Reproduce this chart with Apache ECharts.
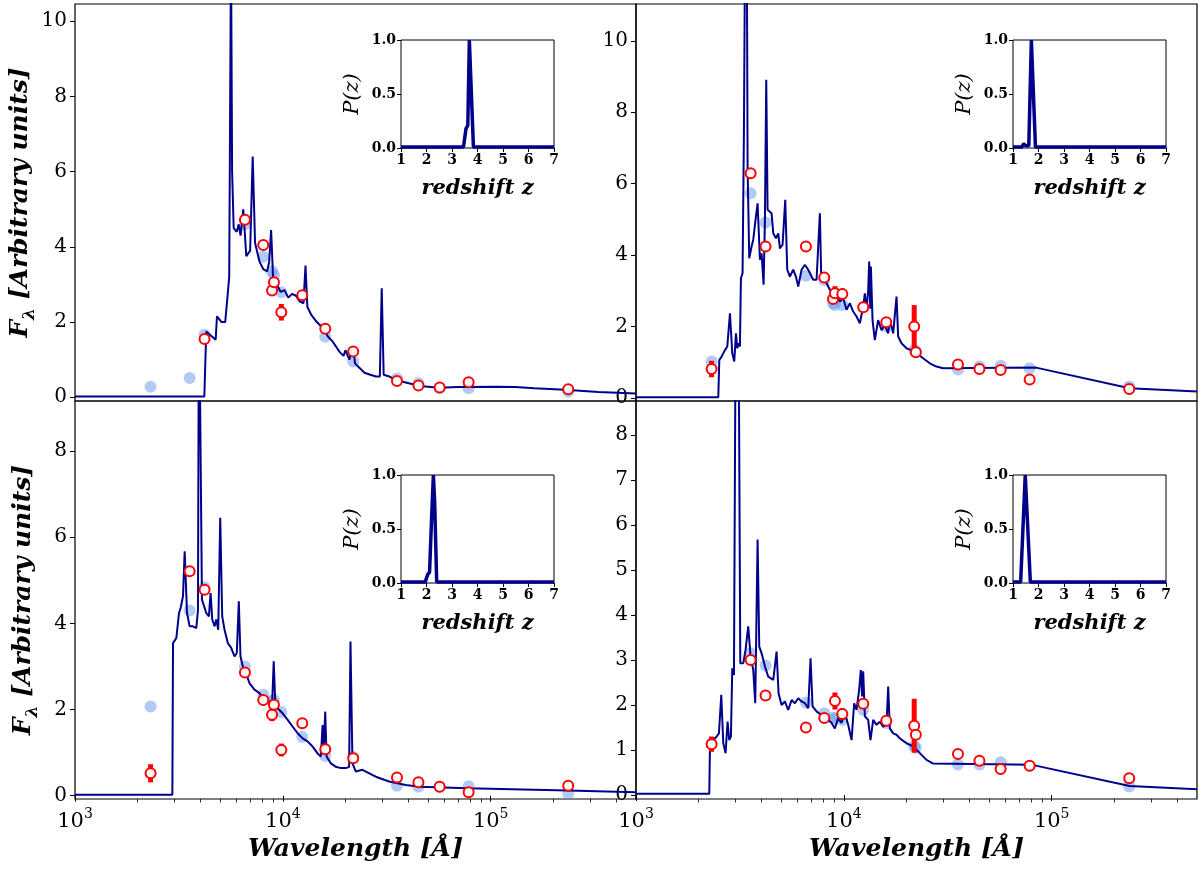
<!DOCTYPE html>
<html>
<head>
<meta charset="utf-8">
<title>SED fits</title>
<script src="https://cdn.jsdelivr.net/npm/echarts@6/dist/echarts.min.js"></script>
<style>
    html, body { margin: 0; padding: 0; background: #fff; }
    #chart { width: 1200px; height: 872px; }
</style>
</head>
<body>
<div id="chart"></div>
<script>
// ---- data ----
// wavelengths (Angstrom) of the photometric bands
const lamObs = [2310, 3560, 4200, 6570, 8050, 8870, 9060, 9830, 12400, 16000, 21800, 22200, 35400, 44900, 56800, 78300, 236000];

// observed fluxes (red open circles), errors, and model fluxes (light blue dots)
const obsTL = [null, null, 1.55, 4.72, 4.05, 2.84, 3.06, 2.26, 2.71, 1.82, 1.22, null, 0.43, 0.31, 0.26, 0.40, 0.21];
const errTL = [0, 0, 0.05, 0.05, 0.05, 0.08, 0.05, 0.22, 0.08, 0.05, 0.1, 0, 0.03, 0.03, 0.03, 0.03, 0.03];
const modTL = [0.28, 0.51, 1.66, 4.6, 3.74, 3.35, 3.25, 2.79, 2.7, 1.61, 0.95, null, 0.5, 0.37, 0.24, 0.24, 0.15];

const obsTR = [0.81, 6.29, 4.24, 4.24, 3.37, 2.77, 2.93, 2.91, 2.54, 2.12, 2.0, 1.28, 0.94, 0.81, 0.78, 0.52, 0.25];
const errTR = [0.23, 0.05, 0.05, 0.05, 0.05, 0.1, 0.2, 0.15, 0.08, 0.08, 0.6, 0.08, 0.05, 0.05, 0.05, 0.05, 0.05];
const modTR = [1.02, 5.73, 4.91, 3.42, 3.3, 2.65, 2.6, 2.6, 2.55, 2.0, 1.34, 1.3, 0.8, 0.88, 0.9, 0.83, 0.32];

const obsBL = [0.52, 5.21, 4.78, 2.86, 2.22, 1.88, 2.11, 1.06, 1.68, 1.08, 0.87, null, 0.42, 0.31, 0.21, 0.08, 0.23];
const errBL = [0.21, 0.05, 0.05, 0.05, 0.05, 0.15, 0.05, 0.15, 0.08, 0.05, 0.05, 0, 0.03, 0.03, 0.03, 0.03, 0.03];
const modBL = [2.07, 4.3, 4.84, 3.0, 2.34, 2.2, 2.22, 1.94, 1.36, 0.92, 0.9, null, 0.23, 0.21, 0.21, 0.22, 0.05];

const obsBR = [1.13, 3.0, 2.21, 1.5, 1.71, null, 2.09, 1.8, 2.03, 1.65, 1.54, 1.34, 0.91, 0.76, 0.58, 0.65, 0.37];
const errBR = [0.17, 0.05, 0.05, 0.05, 0.05, 0, 0.19, 0.13, 0.08, 0.05, 0.6, 0.08, 0.05, 0.05, 0.05, 0.05, 0.05];
const modBR = [1.15, 3.15, 2.88, 2.05, 1.82, 1.72, 1.7, 1.67, 1.89, 1.6, 1.08, 1.05, 0.68, 0.68, 0.73, 0.65, 0.19];

// best-fit model spectra [wavelength, flux]
const specTL = [[1000, 0.02], [4190, 0.02], [4280, 1.75], [4750, 1.53], [4820, 2.15], [5070, 2.0], [5280, 2.0], [5400, 2.6],
    [5520, 3.2], [5580, 8], [5630, 12], [5700, 6], [5800, 4.5], [6000, 4.4], [6130, 4.6], [6260, 4.3], [6450, 5.0],
    [6670, 3.75], [6960, 3.9], [7160, 6.4], [7350, 4.1], [7730, 3.6], [8070, 3.4], [8410, 3.35], [8590, 3.6], [8780, 4.45],
    [8970, 3.2], [9350, 3.0], [9760, 2.8], [10180, 2.85], [10620, 2.65], [11080, 2.75], [11560, 2.7], [12050, 2.55],
    [12570, 2.5], [12850, 3.5], [13120, 2.4], [13680, 2.2], [14570, 2.0], [15520, 1.85], [16540, 1.6], [17260, 1.5],
    [18010, 1.35], [18780, 1.2], [19590, 1.1], [20000, 1.25], [20890, 1.0], [21780, 1.35], [22230, 0.9], [23200, 0.8],
    [24720, 0.65], [26340, 0.6], [28050, 0.55], [29280, 0.55], [29900, 2.9], [30550, 0.6], [32560, 0.55], [35400, 0.45],
    [38550, 0.4], [45650, 0.3], [56360, 0.25], [69660, 0.27], [106300, 0.28], [131200, 0.27], [162200, 0.24],
    [227500, 0.2], [329600, 0.14], [500000, 0.1]];

const specTR = [[1000, 0.02], [2488, 0.02], [2516, 1.06], [2582, 1.16], [2679, 1.34], [2749, 1.44], [2831, 2.37], [2905, 1.25],
    [2970, 1.02], [3026, 1.81], [3071, 1.39], [3105, 1.53], [3162, 1.44], [3197, 3.35], [3256, 3.49], [3305, 7.41],
    [3342, 12], [3417, 12], [3442, 6.48], [3506, 3.91], [3598, 4.24], [3665, 4.43], [3760, 4.99], [3846, 5.45],
    [3947, 3.87], [4020, 4.05], [4110, 3.17], [4171, 5.0], [4233, 8.91], [4296, 5.27], [4490, 5.17], [4575, 4.61],
    [4711, 4.47], [4835, 4.61], [4925, 4.19], [5072, 4.29], [5224, 5.55], [5340, 3.59], [5500, 3.40], [5707, 3.59],
    [5878, 3.40], [6033, 3.12], [6259, 3.59], [6494, 3.73], [6739, 3.59], [7121, 3.31], [7390, 3.31], [7667, 5.17],
    [7781, 3.40], [8103, 3.31], [8564, 3.03], [9051, 2.98], [9567, 2.70], [9926, 2.79], [10300, 2.47], [10690, 2.65],
    [11090, 2.42], [11510, 2.28], [11940, 2.09], [12390, 2.56], [12620, 2.93], [12850, 2.47], [13090, 3.0], [13240, 3.82],
    [13390, 2.5], [13490, 3.68], [13740, 2.18], [14090, 1.62], [14620, 2.18], [15180, 1.90], [15740, 2.04], [16340, 1.81],
    [16640, 2.18], [17270, 1.81], [17920, 2.84], [18250, 1.72], [18940, 1.53], [20020, 1.39], [21150, 1.34], [22360, 1.25],
    [24060, 1.11], [25910, 0.97], [27890, 0.88], [30040, 0.83], [84060, 0.85], [237100, 0.27], [500000, 0.18]];

const specBL = [[1000, 0.02], [2940, 0.02], [2962, 3.54], [3073, 3.66], [3165, 4.24], [3224, 4.36], [3308, 4.63], [3370, 5.67],
    [3458, 4.24], [3562, 3.93], [3694, 3.93], [3833, 3.89], [3905, 4.3], [3948, 12], [4021, 12], [4081, 4.55], [4172, 4.55],
    [4280, 4.24], [4408, 4.16], [4490, 4.7], [4575, 4.09], [4694, 3.93], [4781, 4.09], [4888, 3.85], [4997, 6.45],
    [5108, 4.16], [5241, 3.85], [5438, 3.54], [5642, 3.43], [5854, 3.23], [6004, 3.31], [6139, 4.51], [6254, 3.23],
    [6418, 3.0], [6660, 2.84], [6909, 2.61], [7300, 2.46], [7716, 2.38], [8152, 2.22], [8615, 2.18], [8872, 2.07],
    [9036, 3.12], [9204, 2.07], [9621, 1.99], [9982, 1.91], [10550, 1.76], [11150, 1.6], [11780, 1.45], [12450, 1.33],
    [13150, 1.26], [13900, 1.14], [14690, 0.98], [15240, 0.91], [15530, 1.64], [15700, 0.98], [15990, 1.95], [16230, 0.91],
    [17020, 0.75], [17990, 0.67], [19010, 0.64], [20090, 0.64], [20840, 0.67], [21150, 3.58], [21620, 0.75], [22440, 0.56],
    [24150, 0.6], [27990, 0.44], [32430, 0.33], [38960, 0.25], [45650, 0.21], [77450, 0.17], [234600, 0.12], [500000, 0.08]];

const specBR = [[1000, 0.03], [2252, 0.03], [2269, 1.08], [2354, 1.22], [2443, 1.3], [2506, 1.37], [2572, 2.23], [2630, 1.15],
    [2698, 0.93], [2758, 1.63], [2809, 1.22], [2862, 1.3], [2905, 2.82], [2960, 2.67], [3026, 12], [3105, 12], [3175, 2.93],
    [3281, 2.93], [3367, 3.23], [3467, 3.75], [3558, 3.08], [3665, 2.78], [3747, 2.04], [3846, 5.68], [3917, 3.3],
    [4020, 3.15], [4171, 2.86], [4328, 2.63], [4575, 2.56], [4746, 3.19], [4852, 2.26], [5015, 2.0], [5204, 2.08],
    [5399, 1.89], [5603, 2.11], [5813, 2.04], [6033, 2.15], [6259, 2.08], [6494, 2.04], [6739, 1.93], [6914, 3.04],
    [7070, 1.97], [7390, 1.86], [7809, 1.78], [8256, 1.71], [8725, 1.6], [9051, 1.48], [9393, 1.71], [9745, 1.6],
    [10110, 1.82], [10490, 1.56], [10890, 1.22], [11210, 2.04], [11510, 1.89], [11850, 2.34], [12070, 2.78], [12250, 2.19],
    [12390, 2.75], [12620, 1.75], [13090, 1.67], [13430, 1.22], [13840, 1.67], [14360, 1.56], [14900, 1.63], [15460, 1.52],
    [16040, 1.56], [16340, 2.41], [16640, 1.48], [17270, 1.37], [17920, 1.34], [18590, 1.26], [20020, 1.15], [21540, 1.08],
    [23200, 0.93], [24980, 0.78], [26890, 0.7], [80540, 0.67], [237100, 0.2], [500000, 0.13]];

// redshift probability P(z) for the insets
const pzTL = [[1, 0.01], [3.45, 0.01], [3.55, 0.18], [3.62, 0.21], [3.68, 1.0], [3.75, 1.0], [3.84, 0.01], [7, 0.01]];
const pzTR = [[1, 0.01], [1.35, 0.01], [1.42, 0.04], [1.5, 0.02], [1.62, 0.02], [1.72, 1.0], [1.76, 1.0], [1.88, 0.01], [7, 0.01]];
const pzBL = [[1, 0.01], [1.95, 0.01], [2.05, 0.08], [2.12, 0.1], [2.2, 0.6], [2.27, 1.0], [2.32, 0.75], [2.4, 0.01], [7, 0.01]];
const pzBR = [[1, 0.01], [1.3, 0.01], [1.48, 1.0], [1.52, 1.0], [1.68, 0.01], [7, 0.01]];

// tick values
const xMajor = [1000, 10000, 100000];
const xMinor = [2000, 3000, 4000, 5000, 6000, 7000, 8000, 9000, 20000, 30000, 40000, 50000, 60000, 70000, 80000, 90000,
    200000, 300000, 400000];
const yTicksTop = [0, 2, 4, 6, 8, 10];
const yTicksBL = [0, 2, 4, 6, 8];
const yTicksBR = [0, 1, 2, 3, 4, 5, 6, 7, 8];
const pzTicks = [0, 0.5, 1];

// ---- layout ----
const serif = "'DejaVu Serif', serif";
const navy = '#00008b';
const panels = [
    { left: 75, top: 4, height: 397, ymin: -0.1, ymax: 10.46, yt: yTicksTop, bottom: false, ytitle: true,
      spec: specTL, obs: obsTL, err: errTL, mod: modTL, pz: pzTL, inset: [401, 40] },
    { left: 636, top: 4, height: 397, ymin: -0.085, ymax: 11.03, yt: yTicksTop, bottom: false, ytitle: false,
      spec: specTR, obs: obsTR, err: errTR, mod: modTR, pz: pzTR, inset: [1013, 40] },
    { left: 75, top: 401, height: 398, ymin: -0.077, ymax: 9.16, yt: yTicksBL, bottom: true, ytitle: true,
      spec: specBL, obs: obsBL, err: errBL, mod: modBL, pz: pzBL, inset: [401, 475] },
    { left: 636, top: 401, height: 398, ymin: -0.089, ymax: 8.76, yt: yTicksBR, bottom: true, ytitle: false,
      spec: specBR, obs: obsBR, err: errBR, mod: modBR, pz: pzBR, inset: [1013, 475] }
];

function points(vals) {
    let out = [];
    lamObs.forEach(function (l, i) {
        if (vals[i] != null) out.push([l, vals[i]]);
    });
    return out;
}
function errBars(vals, errs) {
    let out = [];
    lamObs.forEach(function (l, i) {
        if (vals[i] != null && errs[i] > 0) out.push([l, vals[i], errs[i]]);
    });
    return out;
}

let grids = [], xAxes = [], yAxes = [], series = [];

panels.forEach(function (p, i) {
    grids[i] = { left: p.left, top: p.top, width: 561, height: p.height, show: true,
        borderColor: '#000', borderWidth: 1.2, backgroundColor: 'transparent' };
    grids[4 + i] = { left: p.inset[0], top: p.inset[1], width: 153, height: 108, show: true,
        borderColor: '#000', borderWidth: 1, backgroundColor: '#fff' };

    // main log x axis
    xAxes[i] = {
        type: 'log', logBase: 10, gridIndex: i, min: 1000, max: 500000, position: 'bottom',
        axisLine: { show: false }, splitLine: { show: false }, minorTick: { show: false },
        axisTick: { show: p.bottom, customValues: xMajor, length: 6, lineStyle: { color: '#000', width: 1 } },
        axisLabel: {
            show: p.bottom, customValues: xMajor, margin: 8,
            formatter: function (v) { return '{b|10}{s|' + Math.round(Math.log10(v)) + '}'; },
            rich: {
                b: { fontFamily: serif, fontSize: 21, color: '#000', verticalAlign: 'bottom', lineHeight: 25 },
                s: { fontFamily: serif, fontSize: 14, color: '#000', verticalAlign: 'top', lineHeight: 14 }
            }
        },
        name: p.bottom ? 'Wavelength [Å]' : '', nameLocation: 'middle', nameGap: 38,
        nameTextStyle: { fontFamily: serif, fontSize: 25, fontWeight: 'bold', fontStyle: 'italic', color: '#000' }
    };
    // minor ticks on a twin axis
    xAxes[4 + i] = {
        type: 'log', logBase: 10, gridIndex: i, min: 1000, max: 500000, position: 'bottom',
        axisLine: { show: false }, splitLine: { show: false }, axisLabel: { show: false },
        axisTick: { show: p.bottom, customValues: xMinor, length: 3.5, lineStyle: { color: '#000', width: 0.8 } }
    };
    // inset x axis
    xAxes[8 + i] = {
        type: 'value', gridIndex: 4 + i, min: 1, max: 7, interval: 1,
        axisLine: { show: false }, splitLine: { show: false },
        axisTick: { length: 4, lineStyle: { color: '#000' } },
        axisLabel: { fontFamily: serif, fontWeight: 'bold', fontSize: 14, color: '#000', margin: 5 },
        name: 'redshift z', nameLocation: 'middle', nameGap: 30,
        nameTextStyle: { fontFamily: serif, fontSize: 21, fontWeight: 'bold', fontStyle: 'italic', color: '#000' }
    };

    yAxes[i] = {
        type: 'value', gridIndex: i, min: p.ymin, max: p.ymax,
        axisLine: { show: false }, splitLine: { show: false },
        axisTick: { customValues: p.yt, length: 5, lineStyle: { color: '#000' } },
        axisLabel: { customValues: p.yt, fontFamily: serif, fontSize: 20, color: '#000', margin: 8 },
        name: p.ytitle ? '{f|F}{l|λ}{t| [Arbitrary units]}' : '', nameLocation: 'middle', nameGap: 34,
        nameTextStyle: {
            rich: {
                f: { fontFamily: serif, fontSize: 25, fontWeight: 'bold', fontStyle: 'italic', color: '#000', verticalAlign: 'top', lineHeight: 30 },
                l: { fontFamily: serif, fontSize: 17, fontWeight: 'bold', fontStyle: 'italic', color: '#000', verticalAlign: 'bottom', lineHeight: 22 },
                t: { fontFamily: serif, fontSize: 25, fontWeight: 'bold', fontStyle: 'italic', color: '#000', verticalAlign: 'top', lineHeight: 30 }
            }
        }
    };
    yAxes[4 + i] = {
        type: 'value', gridIndex: 4 + i, min: 0, max: 1,
        axisLine: { show: false }, splitLine: { show: false },
        axisTick: { customValues: pzTicks, length: 4, lineStyle: { color: '#000' } },
        axisLabel: { customValues: pzTicks, fontFamily: serif, fontWeight: 'bold', fontSize: 14, color: '#000', margin: 5,
            formatter: function (v) { return v.toFixed(1); } },
        name: 'P(z)', nameLocation: 'middle', nameGap: 38,
        nameTextStyle: { fontFamily: serif, fontSize: 21, fontStyle: 'italic', color: '#000' }
    };

    // model photometry
    series.push({
        type: 'scatter', xAxisIndex: i, yAxisIndex: i, data: points(p.mod), symbolSize: 12, z: 2,
        itemStyle: { color: 'rgb(100,149,237)', opacity: 0.5 }, silent: true
    });
    // model spectrum
    series.push({
        type: 'line', xAxisIndex: i, yAxisIndex: i, data: p.spec, showSymbol: false, z: 3, clip: true,
        lineStyle: { color: navy, width: 2 }, silent: true
    });
    // error bars
    series.push({
        type: 'custom', xAxisIndex: i, yAxisIndex: i, data: errBars(p.obs, p.err), z: 4, clip: true,
        renderItem: function (params, api) {
            let x = api.value(0), y = api.value(1), e = api.value(2);
            let hi = api.coord([x, y + e]);
            let lo = api.coord([x, y - e]);
            return { type: 'rect', shape: { x: hi[0] - 2.5, y: hi[1], width: 5, height: lo[1] - hi[1] },
                style: { fill: '#ff0000' } };
        }
    });
    // observed photometry
    series.push({
        type: 'scatter', xAxisIndex: i, yAxisIndex: i, data: points(p.obs), symbolSize: 10, z: 5,
        itemStyle: { color: '#fff', borderColor: '#ff0000', borderWidth: 2, opacity: 1 }, silent: true
    });
    // P(z)
    series.push({
        type: 'line', xAxisIndex: 8 + i, yAxisIndex: 4 + i, data: p.pz, showSymbol: false, z: 6, clip: true,
        lineStyle: { color: navy, width: 3.5 }, silent: true
    });
});

let myechart = echarts.init(document.getElementById('chart'));
myechart.setOption({
    animation: false,
    backgroundColor: '#fff',
    grid: grids,
    xAxis: xAxes,
    yAxis: yAxes,
    series: series
});
</script>
</body>
</html>
